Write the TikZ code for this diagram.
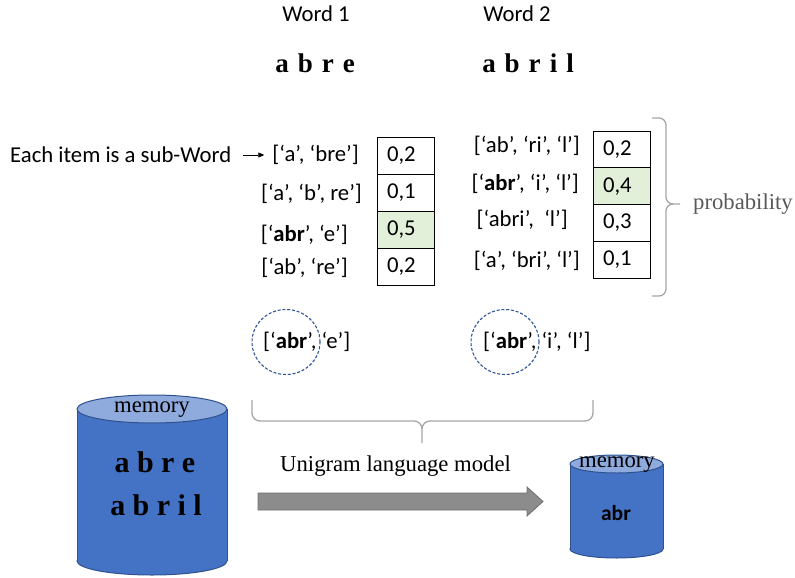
\documentclass[tikz,border=0pt]{standalone}
\usepackage{fontspec}
\setmainfont{Liberation Serif}
\setsansfont{Carlito}
\usetikzlibrary{arrows.meta,shapes.geometric}
\definecolor{cylblue}{HTML}{4472C4}
\definecolor{cyltop}{HTML}{8FAADC}
\definecolor{cylline}{HTML}{2F528F}
\definecolor{cellgreen}{HTML}{E2F0D9}
\definecolor{bracegray}{HTML}{A6A6A6}
\definecolor{probgray}{HTML}{595959}
\definecolor{arrowfill}{HTML}{8C8C8C}
\definecolor{arrowline}{HTML}{6F6F6F}
\definecolor{dashblue}{HTML}{2F5597}
\newcommand\wgap{\hspace{9pt}}
\newcommand\cgap{\hspace{7.4pt}}
\begin{document}
\begin{tikzpicture}[x=1pt,y=-1pt,
  sans/.style={font=\sffamily\fontsize{22.7}{25}\selectfont, inner sep=0pt},
  serif/.style={font=\rmfamily\fontsize{22.7}{26}\selectfont, inner sep=0pt},
  headword/.style={font=\rmfamily\bfseries\fontsize{27}{30}\selectfont, inner sep=0pt},
  cylword/.style={font=\rmfamily\bfseries\fontsize{30}{33}\selectfont, inner sep=0pt},
  cell/.style={draw=black, line width=0.9pt, text width=37pt, inner xsep=10pt,
    inner ysep=0pt, minimum height=37pt, align=left,
    font=\sffamily\fontsize{22.7}{25}\selectfont},
  greencell/.style={cell, fill=cellgreen},
  bracepath/.style={draw=bracegray, line width=1.3pt, line join=round},
  dashring/.style={ellipse, draw=dashblue, line width=1.1pt,
    dash pattern=on 3pt off 1.8pt, minimum width=68pt, minimum height=65pt},
  cylout/.style={draw=cylline, line width=1pt}]
\useasboundingbox (0,0) rectangle (795,578);

% headings
\node[sans] (w1) at (316,14) {Word 1};
\node[sans] (w2) at (517,14) {Word 2};
\node[headword] (h1) at (315,63) {a\wgap b\wgap r\wgap e};
\node[headword] (h2) at (528,63) {a\wgap b\wgap r\wgap i\wgap l};

% left list
\node[sans, anchor=west] (each) at (10,155) {Each item is a sub-Word};
\node[sans, anchor=east] (la1) at (359,155) {[‘a’, ‘bre’]};
\node[sans, anchor=east] (la2) at (362,194) {[‘a’, ‘b’, re’]};
\node[sans, anchor=east] (la3) at (348,235) {[‘{\bfseries abr}’, ‘e’]};
\node[sans, anchor=east] (la4) at (348,268) {[‘ab’, ‘re’]};
\draw[-{Triangle[length=6pt,width=5pt]}, line width=0.6pt, shorten <=12pt, shorten >=8pt]
  (each) -- (la1);

% left table
\node[cell]      (lc1) at (405.5,155.5) {0,2};
\node[cell]      (lc2) at (405.5,192.5) {0,1};
\node[greencell] (lc3) at (405.5,229.5) {0,5};
\node[cell]      (lc4) at (405.5,266.5) {0,2};

% right list
\node[sans, anchor=east] (lb1) at (580,146) {[‘ab’, ‘ri’, ‘l’]};
\node[sans, anchor=east] (lb2) at (579,184) {[‘{\bfseries abr}’, ‘i’, ‘l’]};
\node[sans, anchor=east] (lb3) at (568,220) {[‘abri’,\ \ ‘l’]};
\node[sans, anchor=east] (lb4) at (580,261) {[‘a’, ‘bri’, ‘l’]};

% right table
\node[cell, minimum height=36.75pt]      (rc1) at (621.5,149.4) {0,2};
\node[greencell, minimum height=36.75pt] (rc2) at (621.5,186.1) {0,4};
\node[cell, minimum height=36.75pt]      (rc3) at (621.5,222.9) {0,3};
\node[cell, minimum height=36.75pt]      (rc4) at (621.5,259.6) {0,1};

% right brace and label
\draw[bracepath] (652,118) -- (659,118) to[out=0,in=90] (666,125) -- (666,197)
  to[out=-90,in=180] (673,204) -- (680,204);
\draw[bracepath] (673,204) to[out=180,in=90] (666,211) -- (666,289)
  to[out=-90,in=0] (659,296) -- (652,296);
\node[serif, anchor=west, text=probgray] (prob) at (693,204) {probability};

% selected segmentations
\node[sans, anchor=west] (s1) at (263,342) {[‘{\bfseries abr}’, ‘e’]};
\node[sans, anchor=west] (s2) at (483,342) {[‘{\bfseries abr}’, ‘i’, ‘l’]};
\node[dashring] (r1) at (286,342) {};
\node[dashring] (r2) at (505,342) {};

% bottom brace
\draw[bracepath] (252,400) -- (252,413) to[out=-90,in=180] (260,421) -- (414,421)
  to[out=0,in=90] (422,429) -- (422,443);
\draw[bracepath] (593,400) -- (593,413) to[out=-90,in=0] (585,421) -- (430,421)
  to[out=180,in=90] (422,429);

% big cylinder
\filldraw[fill=cylblue, cylout] (152,561) ellipse [x radius=75, y radius=14];
\fill[cylblue] (77,409) rectangle (227,561);
\draw[cylout] (77,409) -- (77,561) (227,409) -- (227,561);
\filldraw[fill=cyltop, cylout] (152,409) ellipse [x radius=75, y radius=14];
\node[serif] (m1) at (152,410) {memory};
\node[cylword] (cw1) at (155,462) {a\cgap b\cgap r\cgap e};
\node[cylword] (cw2) at (156,505) {a\cgap b\cgap r\cgap i\cgap l};

% block arrow
\filldraw[fill=arrowfill, draw=arrowline, line width=0.8pt]
  (258,493) -- (527,493) -- (527,487) -- (543,501.5) -- (527,516) -- (527,510)
  -- (258,510) -- cycle;
\node[serif, anchor=west] (ulm) at (280,466) {Unigram language model};

% small cylinder
\filldraw[fill=cylblue, cylout] (616.5,549) ellipse [x radius=46.5, y radius=9];
\fill[cylblue] (570,464) rectangle (663,549);
\draw[cylout] (570,464) -- (570,549) (663,464) -- (663,549);
\filldraw[fill=cyltop, cylout] (616.5,464) ellipse [x radius=46.5, y radius=9];
\node[serif] (m2) at (617,465) {memory};
\node[sans, font=\sffamily\bfseries\fontsize{21.5}{24}\selectfont] (abr) at (616,513) {abr};
\end{tikzpicture}
\end{document}
